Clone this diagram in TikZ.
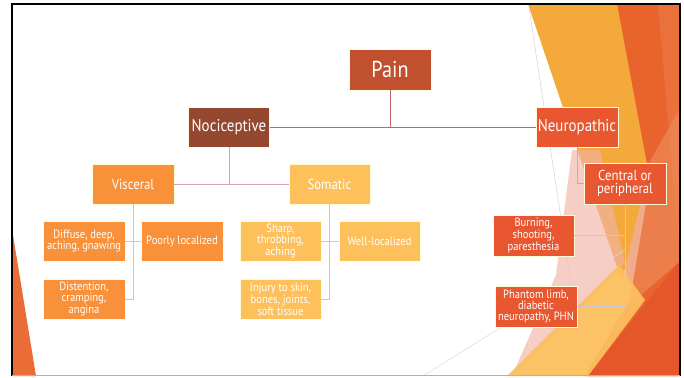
\documentclass[tikz,border=0pt]{standalone}
\usepackage{fontspec}
\setmainfont{PT Sans}[FakeStretch=0.88]
\definecolor{cPain}{HTML}{C0502E}
\definecolor{cNoci}{HTML}{944830}
\definecolor{cNeuro}{HTML}{E8572F}
\definecolor{cVisc}{HTML}{F8913A}
\definecolor{cSoma}{HTML}{FEC05A}
\definecolor{bgYel}{HTML}{F4A93B}
\definecolor{bgDark}{HTML}{E9642C}
\definecolor{bgRed}{HTML}{E5562A}
\definecolor{bgLight}{HTML}{FBBF5E}
\definecolor{bgPink}{HTML}{F2B4A6}
\definecolor{bgSalmon}{HTML}{EE8A5A}
\definecolor{lnA}{HTML}{C8606A}
\definecolor{lnB}{HTML}{D9A3AC}
\definecolor{lnC}{HTML}{DDBFC6}
\definecolor{lnD}{HTML}{C9C6D6}
\begin{document}
\begin{tikzpicture}[x=1pt,y=-1pt,
  box/.style={draw=white!85!yellow, line width=0.7pt, inner sep=0pt, align=center, text=white,
    minimum width=81pt, minimum height=40pt},
  big/.style={font=\fontsize{17}{18}\selectfont},
  mid/.style={font=\fontsize{14.5}{13.5}\selectfont},
  small/.style={font=\fontsize{12}{11}\selectfont},
  conA/.style={draw=lnA, line width=0.9pt},
  conB/.style={draw=lnB, line width=0.9pt},
  conC/.style={draw=lnC, line width=0.9pt},
  conD/.style={draw=lnD, line width=0.9pt}]
\useasboundingbox (0,0) rectangle (684,377);
\fill[white] (0,0) rectangle (684,377);
% background facets
\fill[bgDark] (614,4) -- (679,4) -- (679,376) -- (585,376) -- (630,300) -- (650,180) -- cycle;
\fill[bgSalmon, opacity=0.7] (645,170) -- (679,110) -- (679,262) -- (635,300) -- (625,270) -- cycle;
\fill[bgRed] (588,376) -- (679,376) -- (679,262) -- cycle;
\fill[bgSalmon, opacity=0.35] (658,4) -- (679,4) -- (679,250) -- cycle;
\fill[bgYel] (528,4) -- (617,4) -- (648,170) -- (622,282) -- cycle;
\fill[bgPink, opacity=0.65] (572,150) -- (600,150) -- (625,262) -- (512,376) -- (530,335) -- (556,275) -- cycle;
\fill[bgLight, opacity=0.95] (507,376) -- (588,376) -- (645,300) -- (619,265) -- cycle;
\draw[gray!35, line width=0.5pt] (529,8) -- (578,330);
\draw[gray!30, line width=0.5pt] (423,376) -- (625,250);
\fill[bgDark!95!white] (13,235) -- (13,376) -- (36,376) -- cycle;
% frame
\draw[black, line width=2pt] (12,376) -- (12,4) -- (680,4) -- (680,376);
\draw[gray!60, line width=0.8pt] (12,375.6) -- (680,375.6);
% nodes
\node[box, fill=cPain, minimum width=82pt, minimum height=41pt, font=\fontsize{23}{24}\selectfont] (pain) at (390,69.5) {Pain};
\node[box, big, fill=cNoci] (noci) at (229,127) {Nociceptive};
\node[box, big, fill=cNeuro, minimum width=82pt] (neuro) at (577,127) {Neuropathic};
\node[box, mid, fill=cVisc, minimum width=82pt] (visc) at (133,184) {Visceral};
\node[box, mid, fill=cSoma] (soma) at (329.5,184) {Somatic};
\node[box, mid, fill=cNeuro, minimum width=82pt, minimum height=41pt] (central) at (625,183.5) {Central or\\peripheral};
\node[box, small, fill=cVisc, minimum width=82pt] (diffuse) at (84,241) {Diffuse, deep,\\aching, gnawing};
\node[box, small, fill=cVisc, minimum width=82pt] (poorly) at (182,241) {Poorly localized};
\node[box, small, fill=cVisc, minimum width=82pt] (disten) at (84,299) {Distention,\\cramping,\\angina};
\node[box, small, fill=cSoma] (sharp) at (280.5,241) {Sharp,\\throbbing,\\aching};
\node[box, small, fill=cSoma] (well) at (379.5,241) {Well-localized};
\node[box, small, fill=cSoma] (injury) at (280.5,299) {Injury to skin,\\bones, joints,\\soft tissue};
\node[box, small, fill=cNeuro, minimum height=41pt] (burning) at (533.5,235.5) {Burning,\\shooting,\\paresthesia};
\node[box, small, fill=cNeuro, minimum width=82pt, minimum height=41pt] (phantom) at (536,306.5) {Phantom limb,\\diabetic\\neuropathy, PHN};
% connectors
\draw[conA] (pain.south) -- (pain.south |- noci.east);
\draw[conA] (noci.east) -- (neuro.west);
\draw[conB] (noci.south) -- (noci.south |- visc.east);
\draw[conB] (visc.east) -- (soma.west);
\draw[conC] (visc.south) |- (disten.east);
\draw[conC] (diffuse.east) -- (poorly.west);
\draw[conC] (soma.south) |- (injury.east);
\draw[conC] (sharp.east) -- (well.west);
\draw[conB] (neuro.south) |- (central.west);
\draw[conD] (central.south) |- (phantom.east);
\draw[conD] (burning.east) -- (burning.east -| central.south);
\end{tikzpicture}
\end{document}
